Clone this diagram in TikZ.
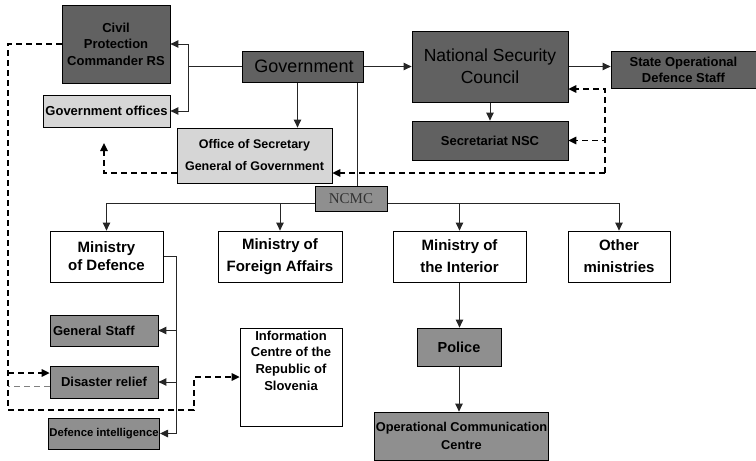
\documentclass[tikz,border=0pt]{standalone}
\usepackage{fontspec}
\setmainfont{Liberation Sans}
\newfontfamily\ncmcfont{Liberation Serif}
\usetikzlibrary{arrows.meta,backgrounds}
\definecolor{boxdark}{gray}{0.38}
\definecolor{boxmid}{gray}{0.56}
\definecolor{boxlight}{gray}{0.84}
\tikzset{
	box/.style={draw=black, line width=0.8pt, inner sep=1pt, align=center, text=black, font=\bfseries\fontsize{13}{16.5}\selectfont},
	boxsize/.style 2 args={minimum width=#1pt, minimum height=#2pt},
	darkbox/.style={box, fill=boxdark},
	midbox/.style={box, fill=boxmid},
	lightbox/.style={box, fill=boxlight},
	whitebox/.style={box, fill=white, font=\bfseries\fontsize{15}{22}\selectfont},
	conn/.style={line width=1pt, draw=black!85},
	arr/.style={conn, -{Triangle[length=8pt,width=7.5pt]}},
	dsh/.style={line width=1.5pt, dash pattern=on 6pt off 4pt, draw=black},
	darr/.style={dsh, -{Triangle[length=8pt,width=7.5pt]}}
}

\begin{document}
\begin{tikzpicture}[x=1pt, y=-1pt]
			%%%%% START %%%%%
			\useasboundingbox (0,0) rectangle (756,461);
			
			% top row
			\node[darkbox, boxsize={108}{78}] (cpc) at (116,44) {Civil\\Protection\\Commander RS};
			\node[darkbox, boxsize={121}{31}, font=\fontsize{18}{20}\selectfont] (gov) at (302.5,66.5) {\hspace*{3pt}Government};
			\node[lightbox, boxsize={127}{32}] (goff) at (106.5,111) {Government offices};
			\node[lightbox, boxsize={155}{55}, font=\bfseries\fontsize{12.5}{22}\selectfont] (osg) at (254.5,155.5) {Office of Secretary\\General of Government};
			\node[darkbox, boxsize={156}{71}, font=\fontsize{17.5}{22}\selectfont] (nsc) at (490,66.5) {National Security\\Council};
			\node[darkbox, boxsize={145}{37}, font=\bfseries\fontsize{13}{16}\selectfont] (sods) at (683.5,69.5) {State Operational\\Defence Staff};
			\node[darkbox, boxsize={156}{39}] (snsc) at (490,140.5) {Secretariat NSC};
			\node[midbox, boxsize={72}{25}, font=\ncmcfont\fontsize{15}{15}\selectfont, text=black!80] (ncmc) at (351,198.5) {NCMC};
			
			% ministries
			\node[whitebox, boxsize={113}{51}, font=\bfseries\fontsize{15}{18}\selectfont] (mod) at (106.5,256.5) {Ministry\\of Defence};
			\node[whitebox, boxsize={124}{51}] (mfa) at (280,256.5) {Ministry of\\Foreign Affairs};
			\node[whitebox, boxsize={133}{51}] (moi) at (459.5,256.5) {Ministry of\\the Interior};
			\node[whitebox, boxsize={102}{51}] (oth) at (619,256.5) {Other\\ministries};
			
			% below ministries
			\node[midbox, boxsize={108}{31}, text width=102pt, align=left] (gs) at (104,330.5) {General Staff};
			\node[midbox, boxsize={108}{32}] (dr) at (104,382) {Disaster relief};
			\node[midbox, boxsize={108}{31}, font=\bfseries\fontsize{11.3}{13}\selectfont] (di) at (104,433.5) {Defence intelligence};
			\node[whitebox, boxsize={102}{98}] (ic) at (291,377) {};
			\node[font=\bfseries\fontsize{13}{16.7}\selectfont, align=center, anchor=north, inner sep=0pt] (ictext) at ([yshift=-3pt]ic.north) {Information\\Centre of the\\Republic of\\Slovenia};
			\node[midbox, boxsize={84}{38}, font=\bfseries\fontsize{14.5}{16}\selectfont] (police) at (459,347) {Police};
			\node[midbox, boxsize={173}{48}, font=\bfseries\fontsize{12.8}{17.5}\selectfont] (occ) at (461.5,436) {Operational Communication\\Centre};
			
			\begin{pgfonlayer}{background}
			% government links
			\coordinate (split) at (188,66.5);
			\draw[conn] (gov.west) -- (split);
			\draw[arr] (split) |- (cpc.east);
			\draw[arr] (split) |- (goff.east);
			\draw[arr] (gov) -- (nsc);
			\coordinate (govS) at ([xshift=-5pt]gov.south);
			\draw[arr] (govS) -- (govS |- osg.north);
			\coordinate (govN) at ([xshift=-6pt]gov.south east);
			\draw[conn] (govN) -- (govN |- ncmc.north);
			\draw[arr] (nsc.east) -- (nsc.east -| sods.west);
			\draw[arr] (nsc) -- (snsc);
			
			% dashed feedback right
			\coordinate (dashR) at (605,173);
			\coordinate (nscIn) at ([yshift=-22.5pt]nsc.east);
			\draw[darr] (dashR) |- (nscIn);
			\draw[darr] (dashR) |- (snsc.east);
			\draw[darr] (dashR) -- (dashR -| osg.east);
			\coordinate (goffMark) at (104,143);
			\draw[darr] (dashR -| osg.west) -| (goffMark);
			
			% dashed feedback left
			\coordinate (dashL) at (8,410);
			\coordinate (dashM) at (194,410);
			\draw[darr] (cpc.west) -| (dashL) -- (dashM) |- (ic.west);
			\coordinate (drIn) at ([yshift=9pt]dr.west);
			\draw[darr] (dashL |- drIn) -- (drIn);
			\coordinate (drOut) at ([yshift=-4pt]dr.west);
			\draw[dsh, draw=black!50, line width=1pt] (drOut) -- (dashL |- drOut);
			
			% NCMC to ministries
			\coordinate (bus) at ([yshift=-4.5pt]ncmc.center);
			\draw[conn] (bus -| mod.north) -- (bus -| oth.north);
			\draw[arr] (bus -| mod.north) -- (mod.north);
			\draw[arr] (bus -| mfa.north) -- (mfa.north);
			\draw[arr] (bus -| moi.north) -- (moi.north);
			\draw[arr] (bus -| oth.north) -- (oth.north);
			
			% defence branch
			\coordinate (modR) at ([xshift=13pt]mod.east);
			\draw[conn] (mod.east) -- (modR) -- (modR |- di.east);
			\draw[arr] (modR |- gs.east) -- (gs.east);
			\draw[arr] (modR |- dr.east) -- (dr.east);
			\draw[arr] (modR |- di.east) -- (di.east);
			
			% interior branch
			\draw[arr] (moi.south) -- (moi.south |- police.north);
			\draw[arr] (police.south) -- (police.south |- occ.north);
			\end{pgfonlayer}
			
			%%%%% END %%%%%
\end{tikzpicture}
\end{document}
